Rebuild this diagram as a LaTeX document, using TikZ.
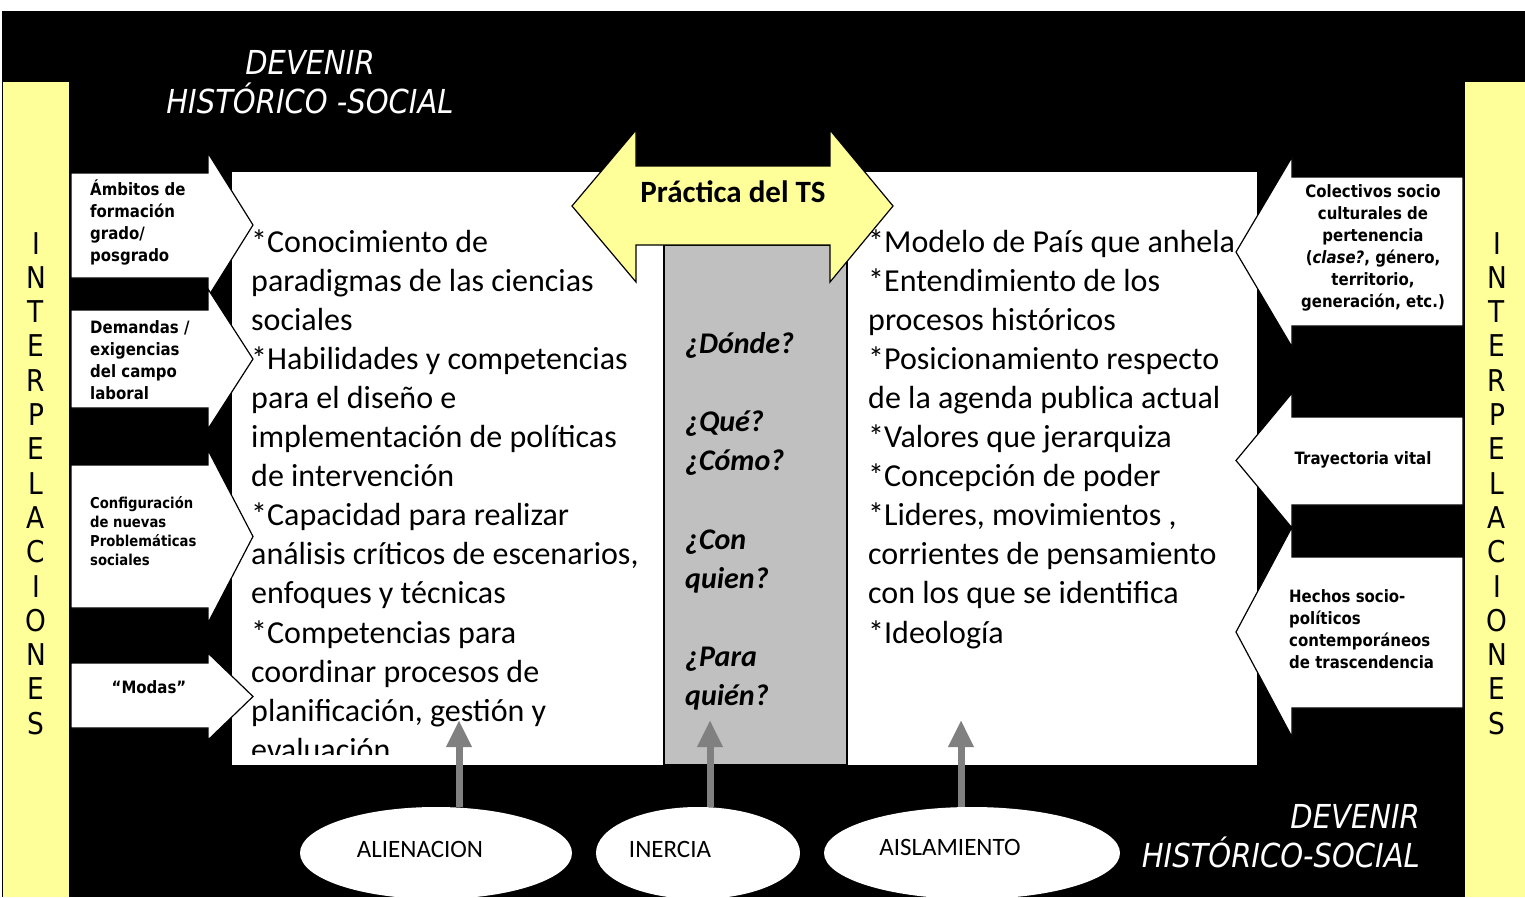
\documentclass[tikz,border=0pt]{standalone}
\usepackage{fontspec}
\setmainfont{Carlito}
\newfontfamily\tahoma[FakeStretch=0.88]{DejaVu Sans}
\usetikzlibrary{arrows.meta,shapes.geometric}

\definecolor{paleyellow}{HTML}{FFFF99}
\definecolor{columngrey}{HTML}{C0C0C0}
\definecolor{arrowgrey}{HTML}{808080}

\begin{document}
\begin{tikzpicture}[x=1pt,y=-1pt,
  cue/.style={inner sep=0pt,align=left,font=\tahoma\bfseries\fontsize{17}{22}\selectfont},
  listline/.style={inner sep=0pt,anchor=base west,font=\fontsize{32}{39}\selectfont},
  question/.style={inner sep=0pt,anchor=base west,font=\bfseries\itshape\fontsize{30}{39}\selectfont},
  devenir/.style={inner sep=0pt,text=white,font=\tahoma\itshape\fontsize{33}{39}\selectfont},
  vertletter/.style={inner sep=0pt,anchor=base,font=\tahoma\fontsize{30}{34}\selectfont},
  oval/.style={ellipse,fill=white,minimum height=92,inner sep=0pt},
  ovaltext/.style={inner sep=0pt,font=\fontsize{25}{30}\selectfont},
  pusharrow/.style={arrowgrey,line width=7pt,-{Triangle[width=24pt,length=27pt]}},
  block/.style={fill=white,draw=black,line width=1.2pt}]

\useasboundingbox (0,0) rectangle (1525,897);
\fill[white] (0,0) rectangle (1525,897);
\fill[black] (2,11) rectangle (1525,897);

% Yellow side bars
\fill[paleyellow] (3,82) rectangle (69,897);
\fill[paleyellow] (1465,82) rectangle (1525,897);
\foreach \c [count=\i] in {I,N,T,E,R,P,E,L,A,C,I,O,N,E,S}{
  \node[vertletter] (li\i) at (36,{254+34.3*(\i-1)}) {\c};
  \node[vertletter] (ri\i) at (1497,{254+34.3*(\i-1)}) {\c};
}

% Main white box and middle column
\fill[white] (232,172) rectangle (1257,765);
\draw[fill=columngrey,line width=1.5pt] (664,245) rectangle (847,765);

% Arrows coming in from the left
\foreach \ta/\tb/\ha/\hb in {173/278/153/297, 310/408/289/429, 465/608/450/623, 663/728/653/740}
  \draw[block] (71,\ta) -- (208,\ta) -- (208,\ha) -- (253,{(\ha+\hb)/2}) -- (208,\hb) -- (208,\tb) -- (71,\tb) -- cycle;

% Arrows coming in from the right
\foreach \ta/\tb/\ha/\hb in {177/326/157/347, 417/505/393/528, 557/708/527/737}
  \draw[block] (1463,\ta) -- (1292,\ta) -- (1292,\ha) -- (1236,{(\ha+\hb)/2}) -- (1292,\hb) -- (1292,\tb) -- (1463,\tb) -- cycle;

\node[cue,anchor=west] (ambitos) at (90,222) {Ámbitos de\\formación\\grado/\\posgrado};
\node[cue,anchor=west] (demandas) at (90,360) {Demandas /\\exigencias\\del campo\\laboral};
\node[cue,anchor=west,font=\tahoma\bfseries\fontsize{15}{19}\selectfont] (config) at (90,531) {Configuración\\de nuevas\\Problemáticas\\sociales};
\node[cue] (modas) at (149,687) {“Modas”};

\node[cue,align=center] (colectivos) at (1373,248) {Colectivos socio\\culturales de\\pertenencia\\(\textit{clase?}, género,\\territorio,\\generación, etc.)};
\node[cue] (trayectoria) at (1363,460) {Trayectoria vital};
\node[cue,anchor=west] (hechos) at (1289,629) {Hechos socio-\\políticos\\contemporáneos\\de trascendencia};

% Left list
\begin{scope}
\clip (232,172) rectangle (664,754);
\foreach \t [count=\i] in {*Conocimiento de, paradigmas de las ciencias, sociales,
  *Habilidades y competencias, para el diseño e, implementación de políticas,
  de intervención, *Capacidad para realizar, {análisis críticos de escenarios,},
  enfoques y técnicas, *Competencias para, coordinar procesos de,
  {planificación, gestión y}, evaluación}
  \node[listline] (left\i) at (251,{252+39.1*(\i-1)}) {\t};
\end{scope}

% Right list
\foreach \t [count=\i] in {*Modelo de País que anhela, *Entendimiento de los,
  procesos históricos, *Posicionamiento respecto, de la agenda publica actual,
  *Valores que jerarquiza, *Concepción de poder, {*Lideres, movimientos ,},
  corrientes de pensamiento, con los que se identifica, *Ideología}
  \node[listline] (right\i) at (868,{252+39.1*(\i-1)}) {\t};

% Questions in the column
\foreach \t/\y [count=\i] in {¿Dónde?/353, ¿Qué?/431, ¿Cómo?/470, ¿Con/549, quien?/588, ¿Para/666, quién?/705}
  \node[question] (ask\i) at (685,\y) {\t};

% Double arrow on top
\draw[fill=paleyellow,line width=1.2pt] (572,206) -- (636,130) -- (636,166) -- (830,166) -- (830,130)
  -- (893,206) -- (830,282) -- (830,245) -- (636,245) -- (636,282) -- cycle;
\node[font=\bfseries\fontsize{31}{36}\selectfont] (practica) at (733,192) {Práctica del TS};

% Ellipses and arrows
\node[oval,minimum width=272] (ali) at (436,853) {};
\node[ovaltext] (alitext) at (420,849) {ALIENACION};
\node[oval,minimum width=204] (ine) at (698,853) {};
\node[ovaltext] (inetext) at (670,849) {INERCIA};
\node[oval,minimum width=296] (ais) at (972,853) {};
\node[ovaltext] (aistext) at (950,847) {AISLAMIENTO};

\coordinate (aliup) at (459,720);
\coordinate (ineup) at (710,720);
\coordinate (aisup) at (961,720);
\draw[pusharrow] (aliup |- ali.north) -- (aliup);
\draw[pusharrow] (ineup |- ine.north) -- (ineup);
\draw[pusharrow] (aisup |- ais.north) -- (aisup);

% Titles
\node[devenir,align=center] (devtop) at (310,82) {DEVENIR\\HISTÓRICO -SOCIAL};
\node[devenir,align=right,anchor=east] (devbottom) at (1420,836) {DEVENIR\\HISTÓRICO-SOCIAL};

\end{tikzpicture}
\end{document}
